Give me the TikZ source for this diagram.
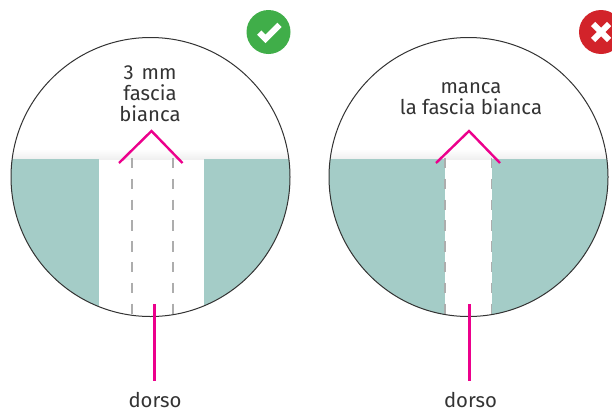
\documentclass[tikz,border=0pt]{standalone}
\usepackage{fontspec}
\setmainfont{Fira Sans}
\definecolor{teal1}{HTML}{A4CCC7}
\definecolor{pink1}{HTML}{EC008C}
\definecolor{okg}{HTML}{40AE49}
\definecolor{nor}{HTML}{D2232A}
\definecolor{ink}{HTML}{333333}
\tikzset{
 x=1pt,y=-1pt,
 ring/.style={draw=ink,line width=1pt},
 band/.style={fill=teal1,draw=none},
 seam/.style={draw=black!32,line width=1.6pt,dash pattern=on 10.3pt off 10.5pt},
 pinkline/.style={draw=pink1,line width=2.4pt},
 lab/.style={font=\fontsize{20.3}{21}\selectfont,text=ink,align=center,inner sep=0pt,anchor=base},
 badge/.style={circle,minimum size=44pt,inner sep=0pt},
 mark1/.style={draw=white,line width=6pt},
}
\begin{document}
\begin{tikzpicture}
\useasboundingbox (0,0) rectangle (612,410);
\fill[white] (0,0) rectangle (612,410);
\begin{scope}
\clip (150.5,177) circle (139.5);
\fill[top color=white,bottom color=black!6] (0,149) rectangle (300,159);
\fill[band] (0,159) rectangle (99,330);
\fill[band] (204,159) rectangle (300,330);
\draw[seam] (132,158) -- (132,320);
\draw[seam] (173,158) -- (173,320);
\end{scope}
\draw[ring] (150.5,177) circle (139.5);
\begin{scope}
\clip (468.5,177) circle (139.5);
\fill[top color=white,bottom color=black!6] (320,149) rectangle (612,159);
\fill[band] (320,159) rectangle (445,330);
\fill[band] (491.5,159) rectangle (612,330);
\draw[seam] (445,158) -- (445,320);
\draw[seam] (491.5,158) -- (491.5,320);
\end{scope}
\draw[ring] (468.5,177) circle (139.5);
\coordinate (la) at (119,163); \coordinate (lb) at (151.5,131); \coordinate (lc) at (182.5,163);
\coordinate (ra) at (436,163); \coordinate (rb) at (469,131); \coordinate (rc) at (500,163);
\draw[pinkline] (la) -- (lb) -- (lc);
\draw[pinkline] (ra) -- (rb) -- (rc);
\node[lab] (t1) at (150,121) {3\hspace{8pt}mm\\fascia\\bianca};
\node[lab] (t2) at (471,114) {manca\\la fascia bianca};
\node[lab] (d1) at (155,407) {dorso};
\node[lab] (d2) at (470.5,407) {dorso};
\coordinate (l1a) at (154,304); \coordinate (l1b) at (154,381);
\coordinate (l2a) at (469.5,304); \coordinate (l2b) at (469.5,381);
\draw[pinkline,line width=3pt] (l1a) -- (l1b);
\draw[pinkline,line width=3pt] (l2a) -- (l2b);
\node[badge,fill=okg] (ok) at (268.5,32) {};
\draw[mark1] (259.3,32.6) -- (265.5,38.8) -- (279.5,24.8);
\node[badge,fill=nor] (no) at (601,32) {};
\draw[mark1] (no.center) ++(-8,-8) -- ++(16,16) (no.center) ++(8,-8) -- ++(-16,16);
\end{tikzpicture}
\end{document}
